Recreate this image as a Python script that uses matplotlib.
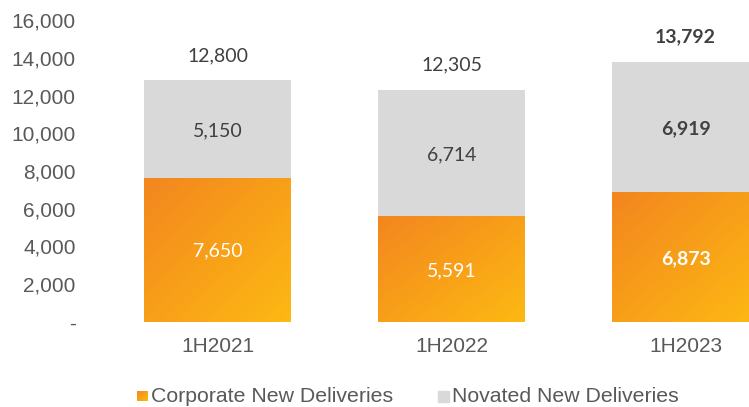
import numpy as np
import matplotlib
matplotlib.use("Agg")
import matplotlib.pyplot as plt
from matplotlib.colors import LinearSegmentedColormap
from matplotlib.ticker import FuncFormatter

# Data
periods = ["1H2021", "1H2022", "1H2023"]
corporate = [7650, 5591, 6873]
novated = [5150, 6714, 6919]
totals = [12800, 12305, 13792]
bold_flags = [False, False, True]

ORANGE_CMAP = LinearSegmentedColormap.from_list("orange", ["#F3861F", "#FDB913"])
GREY = "#D9D9D9"
TICK_COLOR = "#595959"
LABEL_COLOR = "#404040"
VALUE_FONT = "Lato"
AXIS_FONT = "Liberation Sans"

W, H = 749, 407
fig = plt.figure(figsize=(W / 100, H / 100), dpi=100)

left_px, right_px = 80, 749
bottom_px, top_px = 322, 20
ax = fig.add_axes([left_px / W, (H - bottom_px) / H,
                   (right_px - left_px) / W, (bottom_px - top_px) / H])

x = np.arange(len(periods))
bar_w = 0.628
step_px = 234.0
x0 = -(217.5 - left_px) / step_px
x1 = x0 + (right_px - left_px) / step_px
ax.set_xlim(x0, x1)
ax.set_ylim(0, 16000)

# diagonal gradient image (top-left dark orange -> bottom-right light)
gy, gx = np.mgrid[0:1:200j, 0:1:200j]
grad = (gx + gy) / 2.0

corp_bars = ax.bar(x, corporate, width=bar_w, color="none", edgecolor="none", zorder=2)
for rect in corp_bars:
    bx, by = rect.get_x(), rect.get_y()
    bw, bh = rect.get_width(), rect.get_height()
    im = ax.imshow(grad, cmap=ORANGE_CMAP, origin="upper", aspect="auto",
                   extent=[bx, bx + bw, by, by + bh], zorder=2, interpolation="bilinear")
    im.set_clip_path(rect)
ax.set_xlim(x0, x1)
ax.set_ylim(0, 16000)

ax.bar(x, novated, width=bar_w, bottom=corporate, color=GREY, edgecolor="none", zorder=2)

for i in range(len(periods)):
    weight = "bold" if bold_flags[i] else "normal"
    ax.annotate(f"{corporate[i]:,}", (x[i], corporate[i] / 2), xytext=(0, -1),
                textcoords="offset points", ha="center", va="center",
                color="white", fontsize=14, fontweight=weight, family=VALUE_FONT, zorder=3)
    ax.annotate(f"{novated[i]:,}", (x[i], corporate[i] + novated[i] / 2), xytext=(0, -1),
                textcoords="offset points", ha="center", va="center",
                color=LABEL_COLOR, fontsize=14, fontweight=weight, family=VALUE_FONT, zorder=3)
    ax.annotate(f"{totals[i]:,}", (x[i], totals[i]), xytext=(0, 18), textcoords="offset points",
                ha="center", va="center", color=LABEL_COLOR, fontsize=14,
                fontweight=weight, family=VALUE_FONT, zorder=3)

ax.set_yticks(np.arange(0, 16001, 2000))
ax.yaxis.set_major_formatter(FuncFormatter(lambda v, p: "-" if v == 0 else f"{int(v):,}"))
ax.set_xticks(x)
ax.set_xticklabels(periods)
ax.tick_params(axis="both", length=0, labelsize=15, labelcolor=TICK_COLOR)
ax.tick_params(axis="y", pad=3)
ax.tick_params(axis="x", pad=11)
for lbl in ax.get_xticklabels() + ax.get_yticklabels():
    lbl.set_family(AXIS_FONT)
for sp in ax.spines.values():
    sp.set_visible(False)

# Legend drawn in figure pixel coordinates
sq = 11
leg_y = 396
lax = fig.add_axes([137 / W, (H - leg_y - sq / 2) / H, sq / W, sq / H])
lax.imshow(grad, cmap=ORANGE_CMAP, origin="upper", aspect="auto", extent=[0, 1, 0, 1])
lax.set_axis_off()
fig.text(151 / W, (H - leg_y) / H, "Corporate New Deliveries", ha="left", va="center",
         fontsize=15.3, color=TICK_COLOR, family=AXIS_FONT)
fig.patches.append(plt.Rectangle((438 / W, (H - leg_y - sq / 2) / H), sq / W, sq / H,
                                 transform=fig.transFigure, color=GREY))
fig.text(452 / W, (H - leg_y) / H, "Novated New Deliveries", ha="left", va="center",
         fontsize=15.3, color=TICK_COLOR, family=AXIS_FONT)

fig.savefig("out.png", dpi=100)
